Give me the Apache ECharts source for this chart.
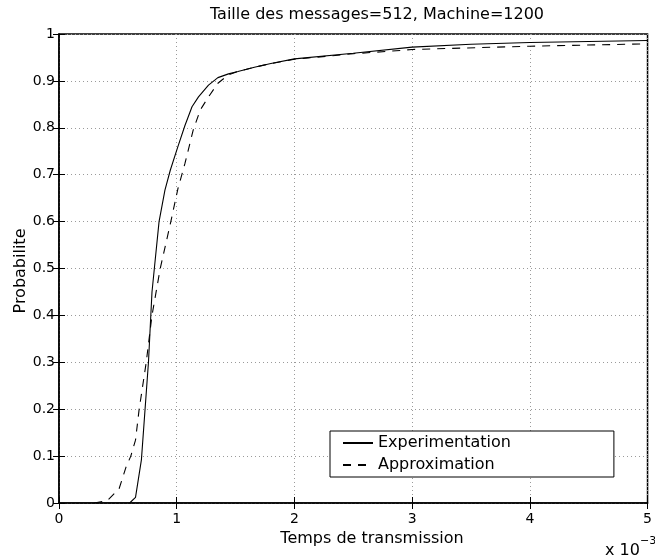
<!DOCTYPE html>
<html>
<head>
<meta charset="utf-8">
<style>
  html, body { margin: 0; padding: 0; background: #fff; }
  #chart { width: 655px; height: 559px; }
</style>
<script src="https://cdn.jsdelivr.net/npm/echarts@6/dist/echarts.min.js"></script>
</head>
<body>
<div id="chart"></div>
<script>
// Transmission time (in units of 1e-3 s) and cumulative probability
const expTime = [0.60, 0.65, 0.70, 0.76, 0.79, 0.81, 0.85, 0.90, 0.946, 1.01, 1.07, 1.13, 1.185, 1.27, 1.35, 1.44, 1.52, 1.66, 1.80, 2.00, 2.50, 3.00, 3.50, 4.00, 5.00];
const expProb = [0.000, 0.012, 0.092, 0.300, 0.450, 0.500, 0.600, 0.667, 0.710, 0.760, 0.805, 0.845, 0.866, 0.891, 0.907, 0.915, 0.920, 0.929, 0.937, 0.947, 0.959, 0.972, 0.978, 0.982, 0.986];

const approxTime = [0.30, 0.41, 0.51, 0.57, 0.61, 0.65, 0.68, 0.74, 0.79, 0.86, 0.95, 1.01, 1.07, 1.14, 1.20, 1.27, 1.35, 1.44, 1.52, 1.66, 1.80, 2.00, 2.50, 2.80, 3.00, 4.00, 5.00];
const approxProb = [0.000, 0.005, 0.030, 0.077, 0.100, 0.134, 0.198, 0.298, 0.400, 0.500, 0.600, 0.670, 0.724, 0.795, 0.838, 0.866, 0.895, 0.913, 0.920, 0.929, 0.937, 0.946, 0.958, 0.963, 0.967, 0.974, 0.979];

const seriesNames = ['Experimentation', 'Approximation'];
const titleText = 'Taille des messages=512, Machine=1200';
const xName = 'Temps de transmission';
const yName = 'Probabilite';

const FONT = '"DejaVu Sans", sans-serif';
const pairs = (xs, ys) => xs.map((x, i) => [x, ys[i]]);

const chart = echarts.init(document.getElementById('chart'), null, { renderer: 'canvas' });

const gridLine = { show: true, lineStyle: { color: '#9a9a9a', type: [1, 3], width: 1 } };
const tickIn = { show: true, inside: true, length: 6, lineStyle: { color: '#000', width: 1 } };

chart.setOption({
  animation: false,
  backgroundColor: '#fff',
  grid: { left: 59, right: 1, top: 34, bottom: 56, show: true, borderColor: '#000', borderWidth: 1.5, backgroundColor: 'transparent' },
  xAxis: [{
    type: 'value', min: 0, max: 5, interval: 1,
    axisLine: { show: true, onZero: false, lineStyle: { color: '#000', width: 1.5 } },
    axisTick: tickIn,
    splitLine: gridLine,
    axisLabel: { color: '#000', fontFamily: FONT, fontSize: 14, margin: 9, showMinLabel: true, showMaxLabel: true }
  }, {
    type: 'value', min: 0, max: 5, interval: 1, position: 'top',
    axisLine: { show: false }, axisTick: tickIn, axisLabel: { show: false }, splitLine: { show: false }
  }],
  yAxis: [{
    type: 'value', min: 0, max: 1, interval: 0.1,
    axisLine: { show: true, onZero: false, lineStyle: { color: '#000', width: 1.5 } },
    axisTick: tickIn,
    splitLine: gridLine,
    axisLabel: { color: '#000', fontFamily: FONT, fontSize: 14, margin: 4 }
  }, {
    type: 'value', min: 0, max: 1, interval: 0.1, position: 'right',
    axisLine: { show: false }, axisTick: tickIn, axisLabel: { show: false }, splitLine: { show: false }
  }],
  legend: {
    orient: 'vertical',
    left: 330, top: 431,
    data: seriesNames,
    itemWidth: 30, itemHeight: 14, itemGap: 6,
    itemStyle: { opacity: 0 },
    textStyle: { color: '#000', fontFamily: FONT, fontSize: 16 },
    backgroundColor: '#fff',
    borderColor: '#000', borderWidth: 1,
    padding: [4, 103, 4, 12]
  },
  graphic: [
    { type: 'text', x: 377, y: 15, style: { text: titleText, font: '16px ' + FONT, fill: '#000', align: 'center', verticalAlign: 'middle' } },
    { type: 'text', x: 372, y: 539, style: { text: xName, font: '16px ' + FONT, fill: '#000', align: 'center', verticalAlign: 'middle' } },
    { type: 'text', x: 21, y: 271, rotation: Math.PI / 2, style: { text: yName, font: '16px ' + FONT, fill: '#000', align: 'center', verticalAlign: 'middle' } },
    { type: 'text', x: 605, y: 559, style: { text: '{a|x 10}{b|\u22123}', rich: { a: { font: '16px ' + FONT, fill: '#000', verticalAlign: 'bottom' }, b: { font: '11px ' + FONT, fill: '#000', verticalAlign: 'top', padding: [0, 0, 12, 0] } }, align: 'left', verticalAlign: 'bottom' } }
  ],
  series: [{
    name: seriesNames[0], type: 'line', data: pairs(expTime, expProb),
    symbol: 'none', smooth: false, clip: true,
    lineStyle: { color: '#000', width: 1.1, type: 'solid' }, itemStyle: { color: '#000' }
  }, {
    name: seriesNames[1], type: 'line', data: pairs(approxTime, approxProb),
    symbol: 'none', smooth: false, clip: true,
    lineStyle: { color: '#000', width: 1.1, type: [8, 7] }, itemStyle: { color: '#000' }
  }]
});
</script>
</body>
</html>
